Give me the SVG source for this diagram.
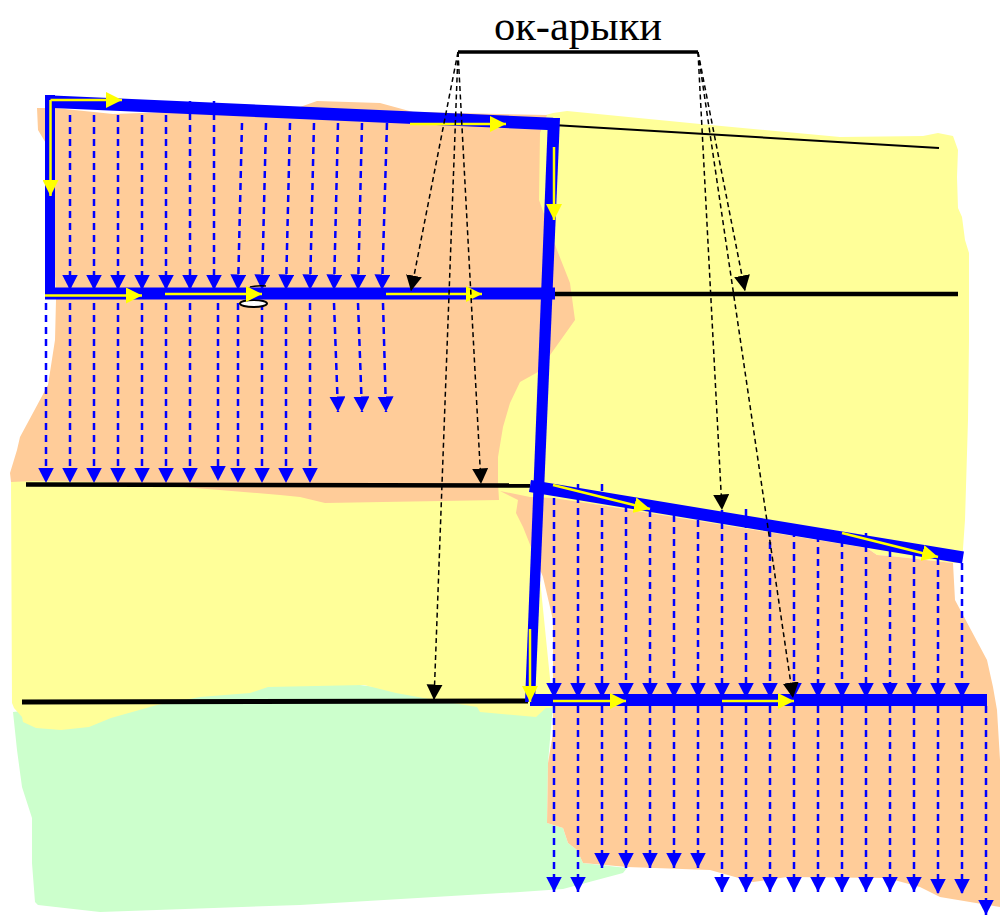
<svg xmlns="http://www.w3.org/2000/svg" width="1000" height="915" viewBox="0 0 1000 915">
<defs>
<marker id="b" markerUnits="userSpaceOnUse" markerWidth="16" markerHeight="17" refX="15.500" refY="8" orient="auto"><path d="M0 0L15.500 8L0 16z" fill="#0000ff"/></marker>
<marker id="k" markerUnits="userSpaceOnUse" markerWidth="16" markerHeight="17" refX="15.500" refY="8" orient="auto"><path d="M0 0L15.500 8L0 16z" fill="#000"/></marker>
<marker id="y" markerUnits="userSpaceOnUse" markerWidth="16" markerHeight="16" refX="16" refY="8" orient="auto"><path d="M0 0L16 8L0 16z" fill="#ffff00"/></marker>
</defs>
<style>
.o{fill:#ffcc99}.l{fill:#ffff99}.g{fill:#ccffcc}
.c{stroke:#0000ff;fill:none}
.d{stroke:#0000ff;stroke-width:2.5;stroke-dasharray:7 5;fill:none;marker-end:url(#b)}
.k{stroke:#000;fill:none}
.e{stroke:#000;stroke-width:1.5;stroke-dasharray:5 3.5;fill:none;marker-end:url(#k)}
.y{stroke:#ffff00;stroke-width:2.500;fill:none;marker-end:url(#y)}
text{font-family:"Liberation Serif",serif;font-size:42.5px;fill:#000}
</style>
<g id="regions">
<path class="g" d="M13 712L200 690L320 680L400 690L480 700L553 704L548 763L547 823L563 828L568 843L577 850L583 863L627 868L623 873L563 889L520 892L300 905L100 912L38 905L35 902L32 863L32 818L22 787L17 750z"/>
<path class="l" d="M11 478L530 480L553 708L546 708L536 717L480 712L477 707L429 699L396 693L364 685L268 687L250 693L200 697L157 705L111 718L89 727L61 730L36 728L23 722L22 717L14 708L12 703z"/>
<path class="l" d="M535 118L553 113L567 111L700 124L840 137L923 136L938 133L953 136L958 150L957 177L958 208L962 217L965 240L969 253L969 340L968 420L965 520L962 563L953 563L890 556L877 555L867 548L600 505L500 495L490 440L500 380L530 350z"/>
<path class="o" d="M37 108L55 108L113 114L300 107L317 101L380 103L413 112L547 115L540 133L539 200L557 250L570 283L575 320L538 372L520 382L510 403L503 427L498 457L498 483L499 500L325 503L300 497L280 495L183 487L100 482L33 481L11 482L10 473L17 450L20 437L48 385L55 340L56 300L50 150L38 130z"/>
<path class="o" d="M500 491L530 497L553 498L600 505L867 548L877 555L890 556L953 563L955 600L963 615L987 660L993 687L997 710L1000 760L1000 907L940 897L920 887L887 878L787 877L753 882L710 870L627 867L583 863L577 850L568 843L563 828L547 823L548 763L553 733L553 620L543 577L523 527L516 513L518 500z"/>
</g>
<g id="laterals">
<path class="d" d="M70 115V290"/><path class="d" d="M94 115V290"/><path class="d" d="M118 115V290"/><path class="d" d="M142 115V290"/><path class="d" d="M166 115V290"/><path class="d" d="M190 101V290"/><path class="d" d="M214 101V290"/>
<path class="d" d="M242 123L238 290"/><path class="d" d="M266 123L262 290"/><path class="d" d="M290 123L286 290"/><path class="d" d="M314 123L310 290"/><path class="d" d="M338 123L334 290"/><path class="d" d="M362 123L358 290"/><path class="d" d="M387 123L382 290"/>
<path class="d" d="M46 303V483"/><path class="d" d="M70 303V483"/><path class="d" d="M94 303V483"/><path class="d" d="M118 303V483"/><path class="d" d="M142 303V483"/><path class="d" d="M166 303V483"/><path class="d" d="M190 303V483"/><path class="d" d="M218 303V481"/><path class="d" d="M238 303V483"/><path class="d" d="M262 303V483"/><path class="d" d="M286 303V483"/><path class="d" d="M310 303V483"/>
<path class="d" d="M334 303L338 412"/><path class="d" d="M358 303L362 412"/><path class="d" d="M383 303L386 412"/>
<path class="d" d="M554 498V698"/><path class="d" d="M578 484V698"/><path class="d" d="M602 484V698"/><path class="d" d="M626 505V698"/><path class="d" d="M650 510V698"/><path class="d" d="M674 515V698"/><path class="d" d="M698 520V698"/><path class="d" d="M722 510V698"/><path class="d" d="M746 509V698"/><path class="d" d="M770 530V698"/><path class="d" d="M794 530V698"/><path class="d" d="M818 535V698"/><path class="d" d="M842 540V698"/><path class="d" d="M866 533V698"/><path class="d" d="M890 550V698"/><path class="d" d="M914 555V698"/><path class="d" d="M938 558V698"/><path class="d" d="M962 563V698"/>
<path class="d" d="M554 706V892"/><path class="d" d="M578 706V892"/><path class="d" d="M602 706V868"/><path class="d" d="M626 706V868"/><path class="d" d="M650 706V868"/><path class="d" d="M674 706V868"/><path class="d" d="M698 706V868"/><path class="d" d="M722 706V892"/><path class="d" d="M746 706V892"/><path class="d" d="M770 706V892"/><path class="d" d="M794 706V892"/><path class="d" d="M818 706V892"/><path class="d" d="M842 706V892"/><path class="d" d="M866 706V892"/><path class="d" d="M890 706V892"/><path class="d" d="M914 706V892"/><path class="d" d="M938 706V894"/><path class="d" d="M962 706V894"/><path class="d" d="M986 706V915"/>
</g>
<g id="ditches">
<path class="k" stroke-width="2" d="M553 125L939 148"/>
<path class="k" stroke-width="4.500" d="M555 294H958"/>
<path class="k" stroke-width="4.500" d="M26 484.500L530 485.500"/>
<path class="k" stroke-width="5" d="M22 702L528 701"/>
</g>
<g id="gate"><ellipse cx="253.500" cy="303.500" rx="13.500" ry="3.500" fill="#fff" stroke="#000" stroke-width="2"/><path class="k" stroke-width="1.500" d="M250 287Q258 285 266 286"/></g>
<g id="canals">
<path class="c" stroke-width="12.500" d="M47 101.500L553 124"/>
<path class="c" stroke-width="10" d="M50 95V298"/>
<path class="c" stroke-width="12" d="M45 293.500H555"/>
<path fill="#0000ff" d="M548 118H560L535 702H525z"/>
<path class="c" stroke-width="12" d="M530 486L963 557.500"/>
<path class="c" stroke-width="12" d="M530 700H987"/>
</g>
<g id="flow">
<path class="y" d="M50.500 100V196"/>
<path class="y" d="M50.500 100H122"/>
<path class="y" d="M45 295.500H142"/>
<path class="y" d="M165 294H262"/>
<path class="y" d="M410 124H506"/>
<path class="y" d="M554 147V220"/>
<path class="y" d="M386 294H482"/>
<path class="y" d="M553 485L650 509"/>
<path class="y" d="M842 533L938 557"/>
<path class="y" d="M530 629V702"/>
<path class="y" d="M553 701H626"/>
<path class="y" d="M722 701H794"/>
</g>
<g id="label">
<path class="k" stroke-width="3.500" d="M458 52H698"/>
<text x="578" y="40" text-anchor="middle">ок-арыки</text>
<path class="e" d="M458 52L411 291"/>
<path class="e" d="M458 52L481 484"/>
<path class="e" d="M458 52L434 700"/>
<path class="e" d="M698 52L745 291"/>
<path class="e" d="M698 52L722 510"/>
<path class="e" d="M698 52L793 698"/>
</g>
</svg>
